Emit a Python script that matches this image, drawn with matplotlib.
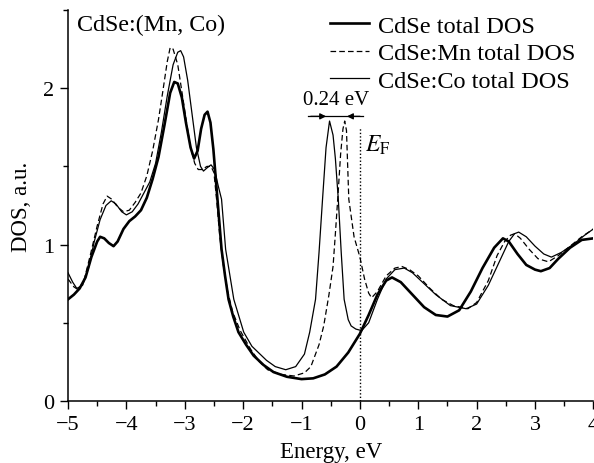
import numpy as np
import matplotlib
matplotlib.use('Agg')
import matplotlib.pyplot as plt
from matplotlib.ticker import MultipleLocator

plt.rcParams['font.family'] = ['Liberation Serif', 'DejaVu Serif']
plt.rcParams['mathtext.fontset'] = 'stix'

# CdSe total DOS (thick)
x_cdse = [-5.0, -4.9, -4.8, -4.7, -4.6, -4.5, -4.45, -4.38, -4.3, -4.22, -4.15, -4.05, -3.95, -3.85,
          -3.75, -3.65, -3.55, -3.45, -3.35, -3.25, -3.18, -3.12, -3.05, -2.98, -2.9, -2.84, -2.78,
          -2.72, -2.66, -2.61, -2.56, -2.51, -2.44, -2.37, -2.31, -2.25, -2.17, -2.08, -1.95, -1.82,
          -1.65, -1.48, -1.25, -1.0, -0.8, -0.6, -0.4, -0.2, 0.0, 0.15, 0.3, 0.45, 0.55, 0.7, 0.9,
          1.1, 1.3, 1.5, 1.7, 1.9, 2.1, 2.3, 2.45, 2.55, 2.7, 2.85, 3.0, 3.1, 3.25, 3.4, 3.6, 3.8, 4.0]
y_cdse = [0.65, 0.68, 0.72, 0.79, 0.92, 1.02, 1.05, 1.04, 1.01, 0.99, 1.02, 1.10, 1.15, 1.18,
          1.22, 1.30, 1.42, 1.56, 1.76, 1.97, 2.04, 2.03, 1.94, 1.78, 1.62, 1.55, 1.60,
          1.74, 1.83, 1.85, 1.78, 1.61, 1.29, 0.97, 0.80, 0.65, 0.54, 0.44, 0.36, 0.29,
          0.23, 0.185, 0.155, 0.14, 0.145, 0.17, 0.22, 0.31, 0.43, 0.55, 0.68, 0.77, 0.79, 0.76, 0.68,
          0.60, 0.55, 0.54, 0.58, 0.70, 0.85, 0.98, 1.04, 1.02, 0.94, 0.87, 0.84, 0.83, 0.85, 0.91, 0.98, 1.03, 1.04]

# CdSe:Mn total DOS (dashed)
x_mn = [-5.0, -4.9, -4.82, -4.72, -4.62, -4.5, -4.4, -4.33, -4.25, -4.15, -4.05, -3.95, -3.85, -3.75,
        -3.65, -3.55, -3.45, -3.38, -3.3, -3.25, -3.2, -3.12, -3.05, -2.97, -2.9, -2.83, -2.77, -2.7,
        -2.62, -2.55, -2.5, -2.45, -2.4, -2.34, -2.27, -2.18, -2.05, -1.87, -1.72, -1.58, -1.35, -1.13,
        -0.95, -0.84, -0.79, -0.7, -0.62, -0.53, -0.46, -0.42, -0.38, -0.33, -0.29, -0.26, -0.23, -0.19,
        -0.1, 0.0, 0.08, 0.15, 0.2, 0.3, 0.45, 0.6, 0.72, 0.85, 1.0, 1.2, 1.4, 1.6, 1.85, 2.0, 2.2,
        2.35, 2.48, 2.58, 2.65, 2.75, 2.9, 3.05, 3.23, 3.4, 3.6, 3.8, 4.0]
y_mn = [0.78, 0.73, 0.71, 0.78, 0.93, 1.12, 1.26, 1.31, 1.29, 1.24, 1.21, 1.22, 1.27, 1.33,
        1.44, 1.60, 1.80, 1.97, 2.17, 2.26, 2.25, 2.15, 1.98, 1.78, 1.62, 1.52, 1.48, 1.48,
        1.50, 1.50, 1.46, 1.27, 1.05, 0.87, 0.71, 0.57, 0.45, 0.33, 0.25, 0.20, 0.17, 0.16,
        0.18, 0.22, 0.27, 0.36, 0.48, 0.68, 0.86, 1.07, 1.29, 1.58, 1.74, 1.79, 1.73, 1.29,
        1.05, 0.92, 0.78, 0.69, 0.66, 0.70, 0.80, 0.85, 0.86, 0.84, 0.80, 0.72, 0.65, 0.61, 0.59, 0.63, 0.77,
        0.93, 1.02, 1.06, 1.07, 1.04, 0.97, 0.91, 0.89, 0.93, 0.99, 1.05, 1.10]

# CdSe:Co total DOS (thin)
x_co = [-5.0, -4.92, -4.85, -4.75, -4.65, -4.55, -4.45, -4.35, -4.26, -4.18, -4.08, -4.0, -3.9, -3.8,
        -3.7, -3.6, -3.5, -3.4, -3.3, -3.2, -3.12, -3.07, -3.02, -2.95, -2.87, -2.8, -2.73, -2.68,
        -2.62, -2.55, -2.49, -2.43, -2.37, -2.3, -2.16, -1.99, -1.85, -1.6, -1.45, -1.27, -1.1, -0.95,
        -0.86, -0.76, -0.7, -0.64, -0.58, -0.52, -0.46, -0.42, -0.37, -0.32, -0.27, -0.2, -0.15, -0.07,
        0.03, 0.15, 0.3, 0.45, 0.6, 0.76, 0.9, 1.1, 1.3, 1.55, 1.82, 2.0, 2.2, 2.4, 2.55, 2.65, 2.72,
        2.85, 3.0, 3.15, 3.28, 3.45, 3.65, 3.85, 4.0]
y_co = [0.82, 0.76, 0.72, 0.74, 0.85, 1.02, 1.16, 1.25, 1.28, 1.26, 1.21, 1.19, 1.21, 1.26,
        1.33, 1.40, 1.52, 1.72, 1.95, 2.15, 2.23, 2.24, 2.20, 2.05, 1.82, 1.62, 1.50, 1.47,
        1.49, 1.51, 1.48, 1.38, 1.29, 0.97, 0.65, 0.44, 0.35, 0.26, 0.22, 0.20, 0.22, 0.30,
        0.44, 0.65, 0.95, 1.29, 1.62, 1.79, 1.70, 1.55, 1.29, 0.95, 0.65, 0.52, 0.48, 0.46,
        0.45, 0.50, 0.65, 0.78, 0.84, 0.85, 0.82, 0.75, 0.68, 0.61, 0.59, 0.62, 0.74, 0.90, 1.02, 1.07, 1.08,
        1.05, 0.99, 0.94, 0.92, 0.95, 1.00, 1.06, 1.10]

fig = plt.figure(figsize=(5.94, 4.64), dpi=100)
ax = fig.add_axes([0.1145, 0.1336, 0.8845, 0.8427])

ax.plot(x_cdse, y_cdse, color='k', lw=1.9, label='CdSe total DOS')
ax.plot(x_mn, y_mn, color='k', lw=0.9, dashes=(4.5, 2.5), label='CdSe:Mn total DOS')
ax.plot(x_co, y_co, color='k', lw=0.9, label='CdSe:Co total DOS')

# Fermi level
ax.plot([0, 0], [0, 1.75], color='k', lw=1.0, ls=(0, (1, 1.5)))
ax.text(0.08, 1.64, r'$E_\mathrm{F}$', fontsize=17, va='center', ha='left')

# 0.24 eV splitting marker
ax.plot([-0.89, 0.05], [1.82, 1.82], color='k', lw=0.9)
ax.annotate('', xy=(-0.53, 1.82), xytext=(-0.89, 1.82),
            arrowprops=dict(arrowstyle='-|>', color='k', lw=0.9, mutation_scale=9))
ax.annotate('', xy=(-0.27, 1.82), xytext=(0.05, 1.82),
            arrowprops=dict(arrowstyle='-|>', color='k', lw=0.9, mutation_scale=9))
ax.text(-0.4, 1.93, '0.24 eV', fontsize=15, ha='center', va='center')

ax.text(-4.85, 2.41, 'CdSe:(Mn, Co)', fontsize=17.3, ha='left', va='center')

ax.set_xlim(-5, 4)
ax.set_ylim(0, 2.5)
ax.xaxis.set_major_locator(MultipleLocator(1))
ax.xaxis.set_minor_locator(MultipleLocator(0.5))
ax.yaxis.set_major_locator(MultipleLocator(1))
ax.yaxis.set_minor_locator(MultipleLocator(0.5))
ax.tick_params(which='major', direction='out', length=6, width=1.0, labelsize=16, pad=4)
ax.tick_params(which='minor', direction='out', length=3.5, width=1.0)
for s in ['top', 'right']:
    ax.spines[s].set_visible(False)
for s in ['left', 'bottom']:
    ax.spines[s].set_linewidth(1.1)

ax.set_xlabel('Energy, eV', fontsize=16.5, labelpad=5)
ax.set_ylabel('DOS, a.u.', fontsize=16.5, labelpad=8)

ax.legend(loc='upper left', bbox_to_anchor=(0.555, 0.966), bbox_transform=fig.transFigure,
          frameon=False, fontsize=17.5, handlelength=1.6, handletextpad=0.4,
          labelspacing=0.22, borderpad=0, borderaxespad=0)

plt.savefig('out.png', dpi=100)
